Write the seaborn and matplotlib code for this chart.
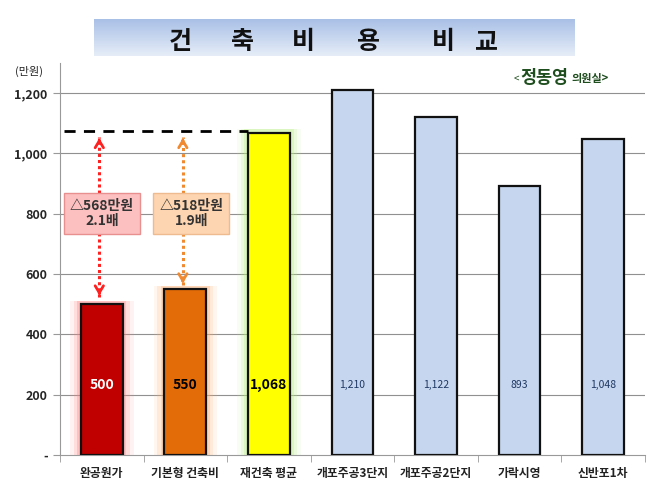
import matplotlib
matplotlib.use('Agg')
import matplotlib.pyplot as plt
import numpy as np
import pandas as pd
import seaborn as sns
from matplotlib.colors import LinearSegmentedColormap

categories = ['완공원가', '기본형 건축비', '재건축 평균', '개포주공3단지', '개포주공2단지', '가락시영', '신반포1차']
values = [500, 550, 1068, 1210, 1122, 893, 1048]
value_labels = ['500', '550', '1,068', '1,210', '1,122', '893', '1,048']
bar_colors = ['#c00000', '#e36c09', '#ffff00', '#c6d6ee', '#c6d6ee', '#c6d6ee', '#c6d6ee']
glow_colors = ['#ff8080', '#ffb070', '#b8f080', None, None, None, None]
y_ticks = [0, 200, 400, 600, 800, 1000, 1200]
y_tick_labels = ['-', '200', '400', '600', '800', '1,000', '1,200']
avg_line = 1075
gap_labels = ['△568만원\n2.1배', '△518만원\n1.9배']
title_chars = ['건', '축', '비', '용', '비', '교']

sns.set_style('white')
plt.rcParams['font.family'] = ['Noto Sans CJK KR', 'DejaVu Sans']

df = pd.DataFrame({'cat': categories, 'val': values})

fig = plt.figure(figsize=(6.7, 4.99), dpi=100)
ax = fig.add_axes([0.0896, 0.0882, 0.873, 0.7856])

# glow behind the first three bars
for w, a in [(0.76, 0.10), (0.67, 0.18), (0.59, 0.3)]:
    for i, gc in enumerate(glow_colors):
        if gc is None:
            continue
        ax.bar(i, values[i] + 12, width=w, color=gc, alpha=a, linewidth=0, zorder=1)

sns.barplot(data=df, x='cat', y='val', hue='cat', palette=bar_colors, width=0.5,
            edgecolor='#111111', linewidth=1.6, legend=False, ax=ax, zorder=3, saturation=1)

ax.set_ylim(0, 1300)
ax.set_xlim(-0.5, 6.5)
ax.set_yticks(y_ticks)
ax.set_yticklabels(y_tick_labels, fontsize=9, fontweight='bold')
ax.set_xlabel('')
ax.set_ylabel('')
ax.set_xticks(range(len(categories)))
ax.set_xticklabels(categories, fontsize=8.5, fontweight='bold', color='#222222')
ax.tick_params(axis='x', length=0, pad=9)
ax.tick_params(axis='y', length=5, color='#999999', left=True, pad=4)
ax.set_xticks(np.arange(-0.5, 7, 1), minor=True)
ax.tick_params(axis='x', which='minor', length=5, color='#999999', bottom=True)
for yv in y_ticks[1:]:
    ax.axhline(yv, color='#909090', linewidth=0.8, zorder=0)
for s in ['top', 'right']:
    ax.spines[s].set_visible(False)
ax.spines['left'].set_color('#999999')
ax.spines['bottom'].set_color('#999999')

# value labels
for i, lab in enumerate(value_labels):
    if i == 0:
        ax.text(i, 232, lab, ha='center', va='center', fontsize=10, fontweight='bold', color='white', zorder=5)
    elif i < 3:
        ax.text(i, 232, lab, ha='center', va='center', fontsize=10, fontweight='bold', color='black', zorder=5)
    else:
        ax.text(i, 232, lab, ha='center', va='center', fontsize=7.5, color='#1f3864', zorder=5)

# dashed average line
ax.plot([-0.45, 1.75], [avg_line, avg_line], color='black', linestyle=(0, (4, 3)), linewidth=2, zorder=4)

# dotted arrows with open heads, and the gap boxes
arrow_cols = ['#ff2020', '#f08a30']
arrow_bottom = [520, 560]
box_x = [0.0, 0.07]
box_face = ['#fcc0c0', '#fdd5b0']
box_edge = ['#e89090', '#eebb90']
for i in range(2):
    x = i - 0.03
    top = avg_line - 15
    ax.plot([x, x], [arrow_bottom[i] + 5, top - 5], color=arrow_cols[i], linestyle=(0, (1, 1)),
            linewidth=2.2, zorder=4)
    ax.annotate('', xy=(x, top), xytext=(x, top - 30),
                arrowprops=dict(arrowstyle='->,head_length=0.5,head_width=0.3', color=arrow_cols[i],
                                linewidth=2), zorder=4)
    ax.annotate('', xy=(x, arrow_bottom[i]), xytext=(x, arrow_bottom[i] + 30),
                arrowprops=dict(arrowstyle='->,head_length=0.5,head_width=0.3', color=arrow_cols[i],
                                linewidth=2), zorder=4)
    ax.text(i + box_x[i], 802, gap_labels[i], ha='center', va='center', fontsize=10, fontweight='bold',
            color='#333333', linespacing=1.05, zorder=6,
            bbox=dict(boxstyle='square,pad=0.45', facecolor=box_face[i], edgecolor=box_edge[i], linewidth=1))

fig.text(0.022, 0.856, '(만원)', fontsize=8, ha='left', va='center')

# source label
src_col = '#1e4d1e'
fig.text(0.774, 0.842, '<', fontsize=7, color=src_col, ha='right', va='center')
fig.text(0.776, 0.844, '정동영', fontsize=12.5, fontweight='bold', color=src_col, ha='left', va='center')
fig.text(0.853, 0.842, '의원실>', fontsize=8, fontweight='bold', color=src_col, ha='left', va='center')

# title banner with gradient
tax = fig.add_axes([0.140, 0.888, 0.717, 0.074])
grad = np.linspace(0, 1, 100).reshape(-1, 1)
cmap = LinearSegmentedColormap.from_list('t', ['#a9c0e6', '#e6edf8'])
tax.imshow(grad, aspect='auto', cmap=cmap, extent=[0, 1, 0, 1], origin='upper')
tax.set_axis_off()
title_x = [180, 242, 303, 368, 443, 487]
for ch, px in zip(title_chars, title_x):
    fig.text(px / 670, 1 - 42 / 499, ch, ha='center', va='center', fontsize=18, fontweight='bold', color='#111111')

fig.savefig('out.png', dpi=100)
